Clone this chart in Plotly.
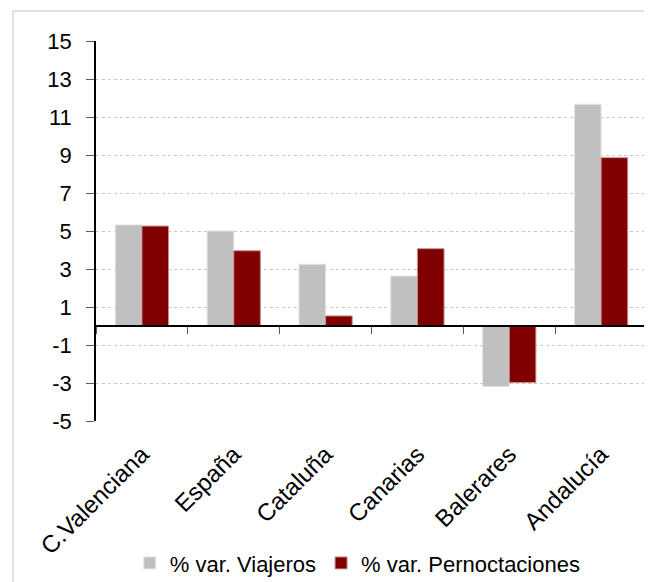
import plotly.graph_objects as go

regions = ["C.Valenciana", "España", "Cataluña", "Canarias", "Balerares", "Andalucía"]
viajeros = [5.32, 5.0, 3.25, 2.63, -3.19, 11.67]
pernoctaciones = [5.26, 3.96, 0.53, 4.07, -2.98, 8.86]

y_ticks = [-5, -3, -1, 1, 3, 5, 7, 9, 11, 13, 15]
y_labels = [str(v) for v in y_ticks]

font = "Liberation Sans, Arial, sans-serif"

fig = go.Figure()
fig.add_trace(go.Bar(
    x=regions, y=viajeros, name="% var. Viajeros",
    marker=dict(color="#c0c0c0", line=dict(color="#e3e3e3", width=1))
))
fig.add_trace(go.Bar(
    x=regions, y=pernoctaciones, name="% var. Pernoctaciones",
    marker=dict(color="#800000", line=dict(color="#c89090", width=1))
))

# the page has an 8px body margin, so margins are set 8px smaller
fig.update_layout(
    width=652, height=582,
    margin=dict(l=88, r=13, t=33, b=169, autoexpand=False),
    paper_bgcolor="white",
    plot_bgcolor="white",
    font=dict(family=font, size=22, color="black"),
    barmode="group",
    bargap=0.42,
    bargroupgap=0,
    showlegend=True,
    legend=dict(
        orientation="h", x=0.475, xanchor="center", y=-0.374, yanchor="middle",
        font=dict(size=22), itemwidth=30, traceorder="normal"
    ),
    xaxis=dict(
        anchor="free", position=0.25, automargin=False,
        showline=True, linecolor="black", linewidth=1.5,
        ticks="outside", tickson="boundaries", ticklen=7, tickcolor="#595959",
        tickangle=-45, ticklabelstandoff=104,
        tickfont=dict(size=24),
        showgrid=False, zeroline=False
    ),
    yaxis=dict(
        range=[-5, 15], tickvals=y_ticks, ticktext=y_labels, automargin=False,
        showline=True, linecolor="black", linewidth=1.5,
        ticks="outside", ticklen=8, tickcolor="#595959",
        ticklabelstandoff=10,
        showgrid=True, gridcolor="#c8c8c8", griddash="dot", gridwidth=1,
        zeroline=False
    ),
    shapes=[dict(
        type="rect", xref="paper", yref="paper",
        x0=-0.1506, x1=1.05, y0=-0.6, y1=1.079,
        line=dict(color="#d9d9d9", width=1.5), layer="below"
    )]
)

fig.write_html("out.html")
